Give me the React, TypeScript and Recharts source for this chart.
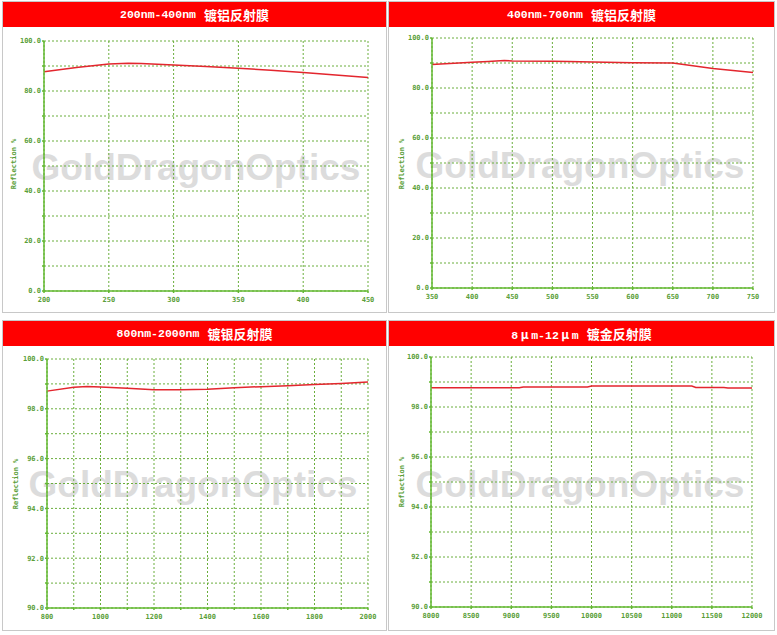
import { LineChart, Line, XAxis, YAxis, CartesianGrid } from "recharts";

// 200nm-400nm aluminium
const alUvWavelength = [200, 225, 250, 265, 275, 300, 325, 350, 375, 400, 425, 450];
const alUvReflect = [87.7, 89.4, 90.8, 91.1, 91.0, 90.4, 89.8, 89.1, 88.3, 87.4, 86.4, 85.4];
const alUvTicks = [200, 250, 300, 350, 400, 450];

// 400nm-700nm aluminium
const alVisWavelength = [350, 400, 420, 440, 450, 500, 520, 550, 600, 650, 700, 750];
const alVisReflect = [89.4, 90.3, 90.6, 91.0, 90.8, 90.7, 90.6, 90.4, 90.1, 90.0, 87.8, 86.2];
const alVisTicks = [350, 400, 450, 500, 550, 600, 650, 700, 750];

// 800nm-2000nm silver
const agWavelength = [800, 900, 950, 1000, 1100, 1200, 1300, 1400, 1500, 1600, 1700, 1800, 1900, 2000];
const agReflect = [98.71, 98.87, 98.9, 98.88, 98.83, 98.77, 98.77, 98.79, 98.85, 98.89, 98.93, 98.98, 99.02, 99.08];
const agTicks = [800, 900, 1000, 1100, 1200, 1300, 1400, 1500, 1600, 1700, 1800, 1900, 2000];

// 8um-12um gold
const auWavelength = [8000, 9100, 9150, 9950, 10000, 11250, 11300, 11650, 11700, 12000];
const auReflect = [98.77, 98.77, 98.8, 98.8, 98.84, 98.84, 98.78, 98.78, 98.76, 98.76];
const auTicks = [8000, 8500, 9000, 9500, 10000, 10500, 11000, 11500, 12000];

const fullYTicks = [0, 10, 20, 30, 40, 50, 60, 70, 80, 90, 100];
const highYTicks = [90, 91, 92, 93, 94, 95, 96, 97, 98, 99, 100];

const AXIS = "#63b832";
const GRID = "#6aae3c";
const TEXT = "#5a9e38";
const RED = "#e3262e";
const X_AXIS_H = 16;

type Box = { left: number; top: number; width: number; height: number };
type Plot = { left: number; top: number; right: number; bottom: number };

interface PanelProps {
  box: Box;
  plot: Plot;
  range: React.ReactNode;
  coating: string;
  xs: number[];
  ys: number[];
  xTicks: number[];
  xLabelEvery: number;
  yTicks: number[];
  yLabelEvery: number;
  mark: [number, number];
  yLabelAt: [number, number];
}

function Panel(p: PanelProps) {
  const data = p.xs.map((x, i) => ({ x, r: p.ys[i] }));
  const chartLeft = p.box.left + 1;
  const chartTop = p.box.top + 26;
  const chartW = p.box.width - 2;
  const chartH = p.box.height - 27;
  const yAxisW = p.plot.left - chartLeft - 2;
  const margin = {
    top: p.plot.top - chartTop,
    left: 2,
    right: chartLeft + chartW - p.plot.right,
    bottom: chartTop + chartH - p.plot.bottom - X_AXIS_H,
  };
  const tickStyle = {
    fill: TEXT,
    fontSize: 7,
    fontFamily: "DejaVu Sans Mono",
    fontWeight: "bold" as const,
  };

  return (
    <>
      <div
        style={{
          position: "absolute",
          left: p.box.left,
          top: p.box.top,
          width: p.box.width,
          height: p.box.height,
          border: "1px solid #c8c8c8",
          boxSizing: "border-box",
          background: "#fff",
        }}
      />
      <div
        style={{
          position: "absolute",
          left: p.box.left + 1,
          top: p.box.top + 1,
          width: p.box.width - 2,
          height: 25,
          background: "#ff0000",
          color: "#fff",
          display: "flex",
          alignItems: "center",
          justifyContent: "center",
          fontWeight: "bold",
        }}
      >
        <span style={{ fontFamily: "'Liberation Mono', 'Noto Sans CJK SC'", fontSize: 11.5 }}>
          {p.range}
        </span>
        <span style={{ fontFamily: "'Noto Sans CJK SC'", fontSize: 13, marginLeft: 8 }}>
          {p.coating}
        </span>
      </div>
      {/* watermark */}
      <div
        style={{
          position: "absolute",
          left: p.mark[0] - 200,
          top: p.mark[1] - 21,
          width: 400,
          textAlign: "center",
          fontFamily: "'Liberation Sans', Arial, sans-serif",
          fontWeight: "bold",
          fontSize: 37,
          lineHeight: "37px",
          color: "#dcdcdc",
          whiteSpace: "nowrap",
        }}
      >
        GoldDragonOptics
      </div>
      <div
        style={{
          position: "absolute",
          left: p.yLabelAt[0] - 40,
          top: p.yLabelAt[1] - 5,
          width: 80,
          height: 10,
          lineHeight: "10px",
          textAlign: "center",
          transform: "rotate(-90deg)",
          fontFamily: "'DejaVu Sans Mono'",
          fontWeight: "bold",
          fontSize: 7,
          color: TEXT,
          whiteSpace: "nowrap",
        }}
      >
        Reflection %
      </div>
      <div style={{ position: "absolute", left: chartLeft, top: chartTop }}>
        <LineChart width={chartW} height={chartH} data={data} margin={margin}>
          <CartesianGrid stroke={GRID} strokeDasharray="2 2" />
          <XAxis
            type="number"
            dataKey="x"
            domain={[p.xTicks[0], p.xTicks[p.xTicks.length - 1]]}
            ticks={p.xTicks}
            interval={0}
            height={X_AXIS_H}
            stroke={AXIS}
            strokeWidth={1.5}
            tickSize={2}
            tickMargin={4}
            tick={tickStyle}
            tickFormatter={(v: number) => (v % p.xLabelEvery === 0 ? String(v) : "")}
          />
          <YAxis
            type="number"
            domain={[p.yTicks[0], p.yTicks[p.yTicks.length - 1]]}
            ticks={p.yTicks}
            interval={0}
            width={yAxisW}
            stroke={AXIS}
            strokeWidth={1.5}
            tickSize={2}
            tickMargin={1}
            tick={tickStyle}
            allowDataOverflow
            tickFormatter={(v: number) => (v % p.yLabelEvery === 0 ? v.toFixed(1) : "")}
          />
          <Line
            type="linear"
            dataKey="r"
            stroke={RED}
            strokeWidth={1.5}
            dot={false}
            isAnimationActive={false}
          />
        </LineChart>
      </div>
    </>
  );
}

const Mu = () => (
  <span
    style={{
      display: "inline-block",
      width: 13,
      textAlign: "center",
      fontFamily: "'Noto Sans CJK SC'",
      fontSize: 12,
    }}
  >
    μ
  </span>
);

export default function App() {
  return (
    <div style={{ position: "absolute", left: 0, top: 0, width: 777, height: 635, background: "#fff" }}>
      <Panel
        box={{ left: 2, top: 1, width: 385, height: 312 }}
        plot={{ left: 44, top: 41, right: 368, bottom: 291 }}
        range="200nm-400nm"
        coating="镀铝反射膜"
        xs={alUvWavelength}
        ys={alUvReflect}
        xTicks={alUvTicks}
        xLabelEvery={50}
        yTicks={fullYTicks}
        yLabelEvery={20}
        mark={[196, 170]}
        yLabelAt={[13.5, 164]}
      />
      <Panel
        box={{ left: 388, top: 1, width: 387, height: 312 }}
        plot={{ left: 432, top: 38, right: 753, bottom: 288 }}
        range="400nm-700nm"
        coating="镀铝反射膜"
        xs={alVisWavelength}
        ys={alVisReflect}
        xTicks={alVisTicks}
        xLabelEvery={50}
        yTicks={fullYTicks}
        yLabelEvery={20}
        mark={[580, 168]}
        yLabelAt={[402, 164]}
      />
      <Panel
        box={{ left: 2, top: 320, width: 385, height: 311 }}
        plot={{ left: 47, top: 359, right: 368, bottom: 608 }}
        range="800nm-2000nm"
        coating="镀银反射膜"
        xs={agWavelength}
        ys={agReflect}
        xTicks={agTicks}
        xLabelEvery={200}
        yTicks={highYTicks}
        yLabelEvery={2}
        mark={[193, 487]}
        yLabelAt={[15.5, 484]}
      />
      <Panel
        box={{ left: 388, top: 320, width: 387, height: 311 }}
        plot={{ left: 431, top: 357, right: 752, bottom: 607 }}
        range={
          <>
            8<Mu />m-12<Mu />m
          </>
        }
        coating="镀金反射膜"
        xs={auWavelength}
        ys={auReflect}
        xTicks={auTicks}
        xLabelEvery={500}
        yTicks={highYTicks}
        yLabelEvery={2}
        mark={[580, 487]}
        yLabelAt={[402, 482]}
      />
    </div>
  );
}
